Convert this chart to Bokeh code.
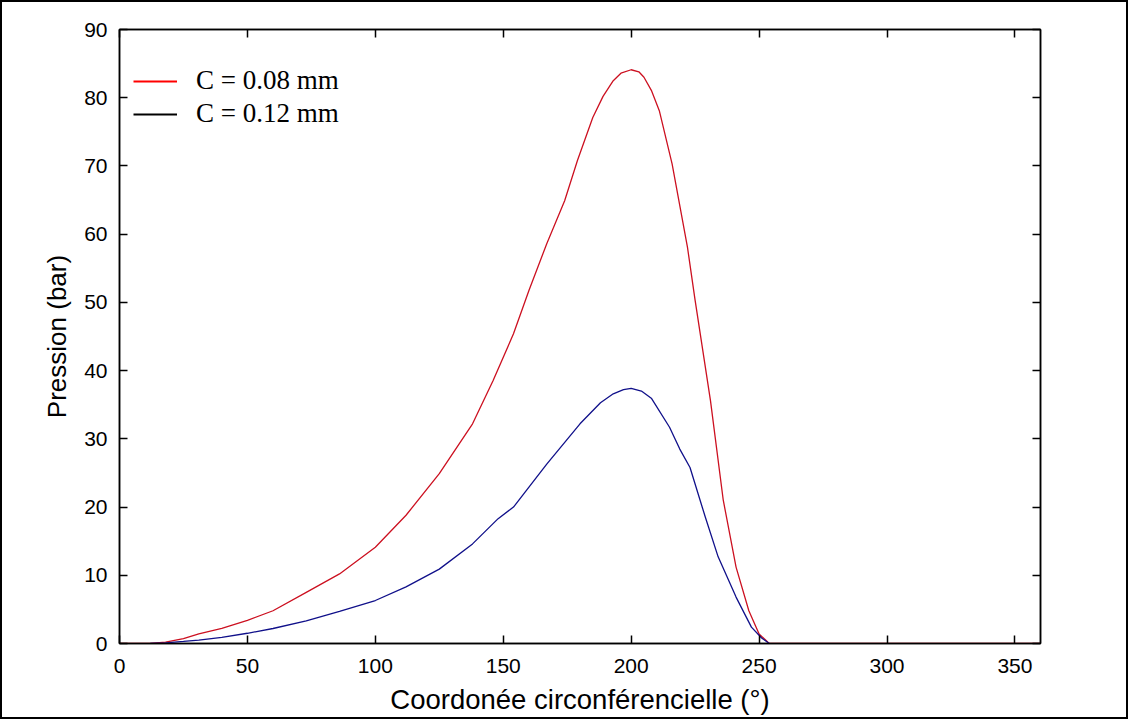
from bokeh.plotting import figure
from bokeh.models import Range1d, LinearAxis, FixedTicker, Legend, LegendItem
from bokeh.embed import file_html
from bokeh.resources import INLINE

# Data
x_c008 = [0, 12, 18, 25, 31, 40, 50, 60, 73, 86, 100, 112, 125, 138, 146, 154, 160,
          167, 174, 179, 185, 189, 193, 196, 200, 203, 205, 208, 211, 216, 222, 225,
          231, 236, 241, 246, 250, 254, 260, 360]
p_c008 = [0, 0, 0.2, 0.7, 1.4, 2.2, 3.4, 4.8, 7.5, 10.2, 14.1, 18.8, 24.9, 32.2, 38.5,
          45.4, 51.7, 58.6, 64.9, 70.8, 77.1, 80.2, 82.5, 83.6, 84.1, 83.8, 83.0, 81.0,
          78.1, 70.3, 58.1, 50.3, 35.6, 21.0, 11.2, 4.8, 1.4, 0, 0, 0]

x_c012 = [12, 18, 25, 31, 40, 50, 60, 73, 86, 100, 112, 125, 138, 148, 154, 167, 180,
          188, 193, 197, 200, 204, 208, 215, 219, 223, 229, 234, 241, 247, 251, 254]
p_c012 = [0, 0.1, 0.3, 0.5, 0.9, 1.5, 2.2, 3.3, 4.7, 6.3, 8.3, 10.9, 14.6, 18.3, 20.0,
          26.3, 32.2, 35.3, 36.6, 37.2, 37.4, 37.0, 35.9, 31.7, 28.5, 25.8, 18.5, 12.7,
          6.8, 2.4, 0.8, 0]

x_ticks = [0, 50, 100, 150, 200, 250, 300, 350]
y_ticks = [0, 10, 20, 30, 40, 50, 60, 70, 80, 90]
labels = ["C = 0.08 mm", "C = 0.12 mm"]
nan_pt = [float("nan")]

TICK_FONT = "Liberation Sans"

p = figure(frame_width=921, frame_height=614,
           x_range=Range1d(0, 360), y_range=Range1d(0, 90),
           output_backend="svg", toolbar_location=None,
           min_border_left=117, min_border_top=27, min_border_right=86,
           min_border_bottom=72)
p.styles = {"border": "2px solid black"}
p.xgrid.visible = False
p.ygrid.visible = False
p.outline_line_color = "black"
p.outline_line_width = 1.5
p.background_fill_color = "white"
p.border_fill_color = "white"

red = p.line(x_c008, p_c008, line_color="#cc1020", line_width=1.3)
blue = p.line(x_c012, p_c012, line_color="#10108a", line_width=1.3)
# legend swatches (as in the original, the second swatch is black)
sw_red = p.line(nan_pt, nan_pt, line_color="#ff0000", line_width=1.8)
sw_black = p.line(nan_pt, nan_pt, line_color="#000000", line_width=1.8)

def style_axis(ax, show_labels=True):
    ax.axis_line_color = "black"
    ax.axis_line_width = 1.5
    ax.major_tick_in = 8
    ax.major_tick_out = 0
    ax.major_tick_line_width = 1.5
    ax.major_tick_line_color = "black"
    ax.minor_tick_line_color = None
    ax.major_label_text_font = TICK_FONT
    ax.major_label_text_font_size = "21px"
    ax.major_label_text_color = "black"
    if not show_labels:
        ax.major_label_text_font_size = "0px"
        ax.major_label_text_alpha = 0

xa = p.xaxis[0]
ya = p.yaxis[0]
xa.ticker = FixedTicker(ticks=x_ticks)
ya.ticker = FixedTicker(ticks=y_ticks)
style_axis(xa)
style_axis(ya)
xa.major_label_standoff = 15
ya.major_label_standoff = 12
xa.axis_label = "Coordonée circonférencielle (°)"
ya.axis_label = "Pression (bar)"
for ax in (xa, ya):
    ax.axis_label_text_font = TICK_FONT
    ax.axis_label_text_font_style = "normal"
    ax.axis_label_text_color = "black"
xa.axis_label_text_font_size = "27.5px"
ya.axis_label_text_font_size = "26px"
xa.axis_label_standoff = 8
ya.axis_label_standoff = 9

top = LinearAxis(ticker=FixedTicker(ticks=x_ticks))
right = LinearAxis(ticker=FixedTicker(ticks=y_ticks))
style_axis(top, False)
style_axis(right, False)
top.major_label_standoff = 0
right.major_label_standoff = 0
p.add_layout(top, "above")
p.add_layout(right, "right")

legend = Legend(items=[LegendItem(label=labels[0], renderers=[sw_red]),
                       LegendItem(label=labels[1], renderers=[sw_black])],
                location=(14, 514))
legend.label_text_font = "Liberation Serif"
legend.label_text_font_size = "27px"
legend.label_text_color = "black"
legend.glyph_width = 44
legend.label_standoff = 19
legend.spacing = 2
legend.padding = 0
legend.margin = 0
legend.border_line_alpha = 0
legend.background_fill_alpha = 0
p.add_layout(legend, "center")

open("out.html", "w").write(file_html(p, INLINE))
